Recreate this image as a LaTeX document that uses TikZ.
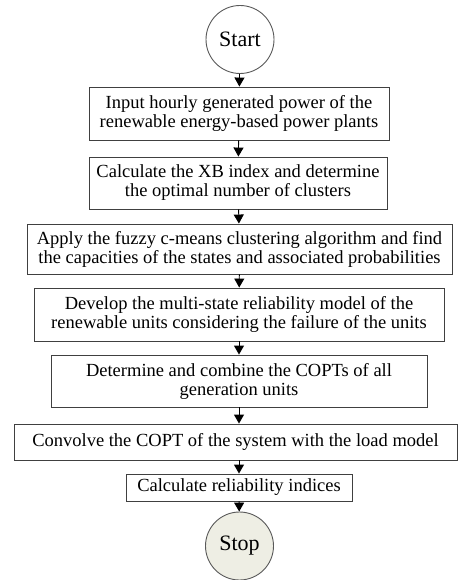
\documentclass[tikz,border=0pt]{standalone}
\usepackage{fontspec}
\setmainfont{Liberation Serif}
\usetikzlibrary{arrows.meta}

\tikzset{
	stepbox/.style={draw=black!75, line width=0.9pt, inner sep=0pt, align=center,
		font=\fontsize{18.5}{19}\selectfont},
	terminal/.style={draw=black!65, line width=0.9pt, circle, inner sep=0pt,
		minimum size=68pt, font=\fontsize{22}{24}\selectfont}
}

\begin{document}
\begin{tikzpicture}[x=1pt,y=-1pt]
	\useasboundingbox (0,0) rectangle (458,580);
	\node[terminal] (A) at (240,39.5) {Start};
	\node[stepbox, minimum width=300pt, minimum height=53pt] (B) at (239,113.5)
		{Input hourly generated power of the\\renewable energy-based power plants};
	\node[stepbox, minimum width=298pt, minimum height=52pt] (C) at (238,183)
		{Calculate the XB index and determine\\the optimal number of clusters};
	\node[stepbox, minimum width=425pt, minimum height=50pt] (D) at (239.5,249)
		{Apply the fuzzy c-means clustering algorithm and find\\the capacities of the states and associated probabilities};
	\node[stepbox, minimum width=410pt, minimum height=53pt] (E) at (239,314.5)
		{Develop the multi-state reliability model of the\\renewable units considering the failure of the units};
	\node[stepbox, minimum width=376pt, minimum height=52pt] (F) at (239,381)
		{Determine and combine the COPTs of all\\generation units};
	\node[stepbox, minimum width=443pt, minimum height=36pt] (G) at (235.5,442)
		{Convolve the COPT of the system with the load model};
	\node[stepbox, minimum width=226pt, minimum height=27pt] (H) at (239,487.5)
		{Calculate reliability indices};
	\node[terminal, fill={rgb,255:red,238;green,238;blue,228}] (I) at (239.5,546) {Stop};
	%
	\path[-{Triangle[length=9pt,width=10pt]}, line width=0.9pt]
	(A) edge (B)
	(B) edge (C)
	(C) edge (D)
	(D) edge (E)
	(E) edge (F)
	(F.south -| E.south) edge (G.north -| E.south)
	(G.south -| H.north) edge (H)
	(H) edge (I);
\end{tikzpicture}
\end{document}
